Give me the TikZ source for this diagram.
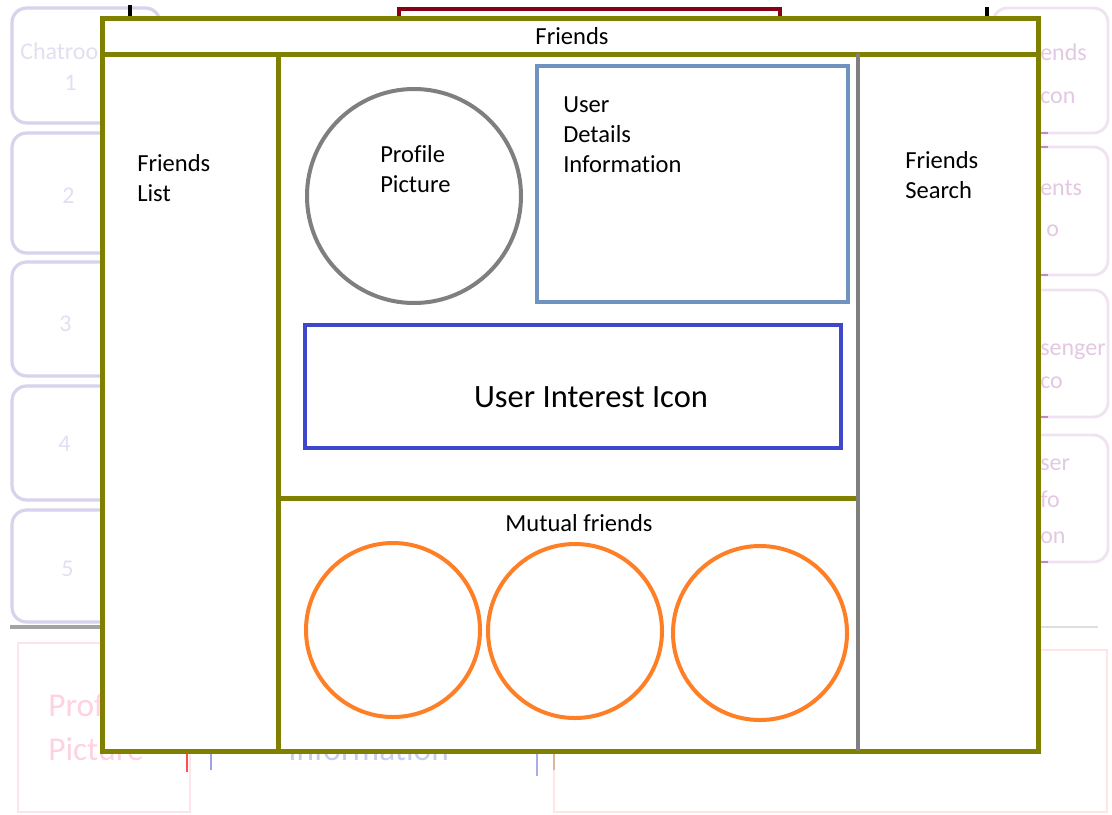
\documentclass[tikz,border=0pt]{standalone}
\usepackage{fontspec}
\setmainfont[Ligatures=NoCommon]{Carlito}

\definecolor{olivebar}{HTML}{808000}
\definecolor{midgray}{HTML}{7F7F7F}
\definecolor{bluegray}{HTML}{7092BE}
\definecolor{indigo}{HTML}{3F48CC}
\definecolor{orangec}{HTML}{FF7F27}
\definecolor{darkred}{HTML}{880015}
\definecolor{lavender}{HTML}{C8BFE7}
\definecolor{plum}{HTML}{A349A4}
\definecolor{rosepink}{HTML}{FFAEC9}

\begin{document}
\begin{tikzpicture}[x=0.75pt,y=-0.75pt,
  panel/.style={draw=olivebar,line width=3.75pt},
  txt/.style={font=\fontsize{18.4}{22.5}\selectfont,inner sep=0pt,anchor=base west},
  bigtxt/.style={font=\fontsize{24.4}{29}\selectfont,inner sep=0pt,anchor=base},
  ghostbox/.style={draw=lavender,line width=2.4pt,rounded corners=11pt,opacity=0.7},
  ghostboxr/.style={draw=plum!22,line width=2.2pt,rounded corners=11pt,opacity=0.7},
  ghosttxt/.style={font=\fontsize{18}{22}\selectfont,inner sep=0pt,anchor=base west,text=lavender!50},
  ghosttxtr/.style={font=\fontsize{18}{22}\selectfont,inner sep=0pt,anchor=base west,text=plum!30},
  ghostbig/.style={font=\fontsize{25}{30}\selectfont,inner sep=0pt,anchor=base west},
  ring/.style={draw=orangec,line width=3pt,circle,minimum size=174pt*0.75,inner sep=0pt}]

\useasboundingbox (0,0) rectangle (1112,814);
\fill[white] (0,0) rectangle (1112,814);

% ---------- layer underneath: older layout sketch ----------
% chatroom tabs on the left
\foreach \t/\b in {8/123,133/253,262/376,386/500,510/622}
  \draw[ghostbox] (12,\t) rectangle (160,\b);
\node[ghosttxt] (chatroom) at (20,59) {Chatroom};
\node[ghosttxt] (ch1) at (64,90) {1};
\node[ghosttxt] (ch2) at (62,203) {2};
\node[ghosttxt] (ch3) at (59,331) {3};
\node[ghosttxt] (ch4) at (58,451) {4};
\node[ghosttxt] (ch5) at (61,576) {5};

% tabs on the right
\foreach \t/\b in {8/133,147/275,290/417,435/562}
  \draw[ghostboxr] (993,\t) rectangle (1108,\b);
\foreach \b in {133,275,417,562}
  \draw[plum!65,line width=2.2pt] (1040,\b) -- (1048,\b);
\draw[plum!65,line width=2.2pt] (1040,147) -- (1048,147);
\node[ghosttxtr] (r1) at (1040,60) {ends};
\node[ghosttxtr] (r2) at (1040,103) {con};
\node[ghosttxtr] (r3) at (1040,195) {ents};
\node[ghosttxtr] (r4) at (1046,236) {o};
\node[ghosttxtr] (r5) at (1040,355) {senger};
\node[ghosttxtr] (r6) at (1040,388) {co};
\node[ghosttxtr] (r7) at (1040,470) {ser};
\node[ghosttxtr] (r8) at (1040,507) {fo};
\node[ghosttxtr] (r9) at (1040,543) {on};

% header pieces
\draw[black,line width=2.4pt] (130,5) -- (130,22);
\draw[black,line width=2.4pt] (987,7) -- (987,22);
\draw[darkred,line width=3pt] (399,30) -- (399,9) -- (780,9) -- (780,30);

% lower strip
\draw[black!60,line width=2.4pt,opacity=0.6] (10,627) -- (100,627);
\draw[black!25,line width=2pt,opacity=0.5] (1040,627) -- (1098,627);
\draw[rosepink!35,line width=1.3pt] (18,643) rectangle (190,812);
\draw[red!10,line width=1.2pt] (554,650) rectangle (1107,812);
\node[ghostbig,text=rosepink!55] (gpp1) at (48,716) {Profile};
\node[ghostbig,text=rosepink!55] (gpp2) at (48,760) {Picture};
\node[ghostbig,text=indigo!28] (ginfo) at (288,760) {Information};
\draw[red!70,line width=2pt] (187,752) -- (187,772);
\draw[indigo!50,line width=2pt] (211,752) -- (211,770);
\draw[indigo!45,line width=2pt] (537,752) -- (537,776);
\draw[brown!55,line width=2pt] (554,752) -- (554,770);

% ---------- friends page frame ----------
\draw[panel,fill=white] (102,18) rectangle (1038,751);
\draw[panel] (102,54) -- (1038,54);
\draw[panel] (278,54) -- (278,751);
\draw[panel] (278,498) -- (858,498);
\draw[midgray,line width=3pt,line cap=round] (858,55) -- (858,749);

\node[txt,anchor=base] (title) at (572,44) {Friends};
\node[txt] (fl1) at (137,171) {Friends};
\node[txt] (fl2) at (137,201) {List};
\node[txt] (fs1) at (905,168) {Friends};
\node[txt] (fs2) at (905,198) {Search};

% profile block
\node[draw=midgray,line width=3pt,circle,minimum size=160.5pt,inner sep=0pt] (pic) at (414,196) {};
\node[txt] (pp1) at (380,162) {Profile};
\node[txt] (pp2) at (380,192) {Picture};

\draw[bluegray,line width=3pt] (537,66) rectangle (848,302);
\node[txt] (ud1) at (563,112) {User};
\node[txt] (ud2) at (563,142) {Details};
\node[txt] (ud3) at (563,172) {Information};

\draw[indigo,line width=3.5pt] (305,325) rectangle (841,448);
\node[bigtxt] (interest) at (591,407) {User Interest Icon};

% mutual friends
\node[txt,anchor=base] (mutual) at (579,531) {Mutual friends};
\node[ring] (m1) at (393,630) {};
\node[ring] (m2) at (575,631) {};
\node[ring] (m3) at (760,633) {};
\end{tikzpicture}
\end{document}
